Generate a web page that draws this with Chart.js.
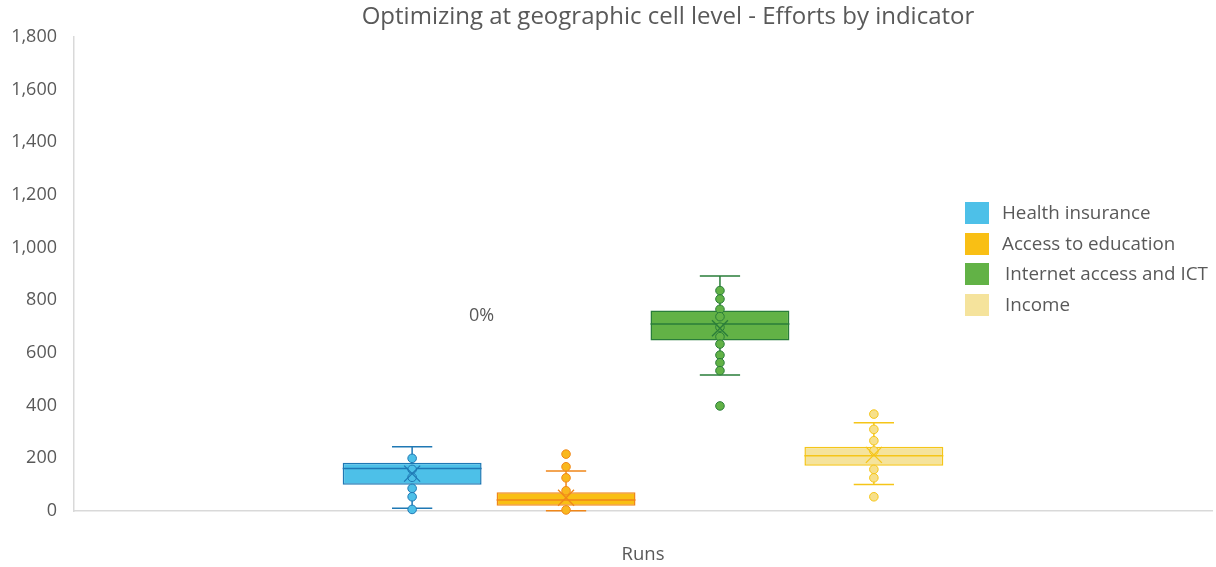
<!DOCTYPE html>
<html>
<head>
<meta charset="utf-8">
<script src="https://cdn.jsdelivr.net/npm/chart.js@4.4.1/dist/chart.umd.min.js"></script>
<style>
  html, body { margin: 0; padding: 0; background: #ffffff; }
  #wrap { position: relative; width: 1216px; height: 567px; }
</style>
</head>
<body>
<div id="wrap"><canvas id="c" width="1216" height="567"></canvas></div>
<script>
// ---- data ----
const chartTitle = 'Optimizing at geographic cell level - Efforts by indicator';
const categories = ['Runs'];
const seriesNames = ['Health insurance', 'Access to education', 'Internet access and ICT', 'Income'];
const q1Values = [100, 20, 647, 172];
const q3Values = [183, 71, 761, 244];
const medianValues = [161, 42, 710, 210];
const meanValues = [142, 50, 694, 213];
const whiskerLow = [10, 1, 516, 101];
const whiskerHigh = [244, 152, 892, 335];
const pointsHealth = [200, 158, 128, 86, 54, 6];
const pointsEducation = [216, 168, 126, 77, 4];
const pointsInternet = [837, 805, 766, 738, 698, 662, 634, 592, 563, 533, 399];
const pointsIncome = [368, 310, 267, 228, 158, 126, 54];
const yTicks = [0, 200, 400, 600, 800, 1000, 1200, 1400, 1600, 1800];
const strayLabel = '0%';
const strayLabelValue = 740;

// ---- styles ----
const fills = ['#4dc0e8', '#f9bf14', '#62b246', '#f5e39c'];
const borders = ['#1f78b4', '#f0871a', '#2a7d3a', '#f5c518'];
const dotFills = ['#4dc0e8', '#f9b81e', '#62b246', '#f7e08a'];
const textColor = '#595959';
const fontFam = '"Open Sans", Roboto, "Liberation Sans", Arial, sans-serif';
const allPoints = [pointsHealth, pointsEducation, pointsInternet, pointsIncome];

const datasets = seriesNames.map((name, i) => ({
  label: name,
  data: [[q1Values[i], q3Values[i]]],
  backgroundColor: fills[i],
  borderColor: borders[i],
  borderWidth: 1.5,
  borderSkipped: false,
  categoryPercentage: 0.541,
  barPercentage: 0.9026
}));

const boxPlugin = {
  id: 'boxExtras',
  afterDatasetsDraw(chart) {
    const ctx = chart.ctx;
    const y = chart.scales.y;
    chart.data.datasets.forEach((ds, i) => {
      const el = chart.getDatasetMeta(i).data[0];
      const cx = el.x;
      const half = el.width / 2;
      const capHalf = el.width * 0.145;
      const yTop = y.getPixelForValue(q3Values[i]);
      const yBot = y.getPixelForValue(q1Values[i]);
      const yHi = y.getPixelForValue(whiskerHigh[i]);
      const yLo = y.getPixelForValue(whiskerLow[i]);
      const yMed = y.getPixelForValue(medianValues[i]);
      const yMean = y.getPixelForValue(meanValues[i]);
      ctx.save();
      ctx.strokeStyle = borders[i];
      ctx.lineWidth = 1.5;
      ctx.beginPath();
      ctx.moveTo(cx, yHi); ctx.lineTo(cx, yTop);
      ctx.moveTo(cx, yBot); ctx.lineTo(cx, yLo);
      ctx.moveTo(cx - capHalf, yHi); ctx.lineTo(cx + capHalf, yHi);
      ctx.moveTo(cx - capHalf, yLo); ctx.lineTo(cx + capHalf, yLo);
      ctx.moveTo(cx - half, yMed); ctx.lineTo(cx + half, yMed);
      ctx.stroke();
      ctx.lineWidth = 1;
      allPoints[i].forEach(v => {
        const py = y.getPixelForValue(v);
        ctx.beginPath();
        ctx.arc(cx, py, 4.3, 0, Math.PI * 2);
        ctx.fillStyle = dotFills[i];
        ctx.fill();
        ctx.stroke();
      });
      const m = 8;
      ctx.lineWidth = 1.3;
      ctx.beginPath();
      ctx.moveTo(cx - m, yMean - m); ctx.lineTo(cx + m, yMean + m);
      ctx.moveTo(cx + m, yMean - m); ctx.lineTo(cx - m, yMean + m);
      ctx.stroke();
      ctx.restore();
    });
    const el0 = chart.getDatasetMeta(0).data[0];
    ctx.save();
    ctx.fillStyle = textColor;
    ctx.font = '18px ' + fontFam;
    ctx.textAlign = 'center';
    ctx.textBaseline = 'middle';
    ctx.fillText(strayLabel, el0.x + el0.width / 2, y.getPixelForValue(strayLabelValue));
    ctx.restore();
  },
  afterDraw(chart) {
    const ctx = chart.ctx;
    const area = chart.chartArea;
    ctx.save();
    ctx.fillStyle = textColor;
    ctx.font = '24px ' + fontFam;
    ctx.textAlign = 'center';
    ctx.textBaseline = 'middle';
    ctx.fillText(chartTitle, 668, 17);
    ctx.font = '18.5px ' + fontFam;
    ctx.fillText(categories[0], (area.left + area.right) / 2, 555);
    const tops = [202, 233, 263, 294];
    ctx.textAlign = 'left';
    ctx.font = '18.8px ' + fontFam;
    seriesNames.forEach((n, i) => {
      ctx.fillStyle = fills[i];
      ctx.fillRect(965, tops[i], 24, 22);
      ctx.fillStyle = textColor;
      ctx.fillText(n, i < 2 ? 1002 : 1005, tops[i] + 12);
    });
    ctx.restore();
  }
};

new Chart(document.getElementById('c'), {
  type: 'bar',
  data: { labels: categories, datasets: datasets },
  options: {
    responsive: false,
    animation: false,
    layout: { padding: { top: 37, right: 4, bottom: 56, left: 0 } },
    plugins: { legend: { display: false }, title: { display: false }, tooltip: { enabled: false } },
    scales: {
      x: {
        ticks: { display: false },
        grid: { display: false, drawTicks: false },
        border: { display: true, color: '#d9d9d9', width: 1.5 }
      },
      y: {
        min: 0, max: 1800,
        afterBuildTicks(scale) { scale.ticks = yTicks.map(v => ({ value: v })); },
        afterFit(scale) { scale.width = 74; },
        ticks: {
          color: textColor,
          padding: 17,
          font: { family: fontFam, size: 18 },
          callback: v => v.toLocaleString('en-US')
        },
        grid: { display: false, drawTicks: false },
        border: { display: true, color: '#d9d9d9', width: 1.5 }
      }
    }
  },
  plugins: [boxPlugin]
});
</script>
</body>
</html>
